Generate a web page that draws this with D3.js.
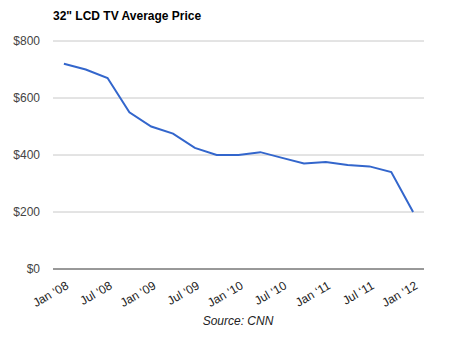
<!DOCTYPE html>
<html>
<head>
<meta charset="utf-8">
<script src="https://cdn.jsdelivr.net/npm/d3@7"></script>
<style>
  body { margin: 0; background: #fff; }
  svg { display: block; font-family: "Liberation Sans", Arial, sans-serif; }
</style>
</head>
<body>
<div id="chart"></div>
<script>
// quarterly average price of a 32" LCD TV
const quarters = ["Jan '08", "Apr '08", "Jul '08", "Oct '08", "Jan '09", "Apr '09", "Jul '09", "Oct '09",
  "Jan '10", "Apr '10", "Jul '10", "Oct '10", "Jan '11", "Apr '11", "Jul '11", "Oct '11", "Jan '12"];
const prices = [720, 700, 670, 550, 500, 475, 425, 400, 400, 410, 390, 370, 375, 365, 360, 340, 200];
const priceTicks = [0, 200, 400, 600, 800];
const tickLabels = ["Jan '08", "Jul '08", "Jan '09", "Jul '09", "Jan '10", "Jul '10", "Jan '11", "Jul '11", "Jan '12"];

const width = 451, height = 338;
const margin = { top: 41, right: 27, bottom: 69, left: 53 };

const svg = d3.select('#chart')
  .append('svg')
  .attr('width', width)
  .attr('height', height);

const x = d3.scalePoint()
  .domain(quarters)
  .range([margin.left, width - margin.right])
  .padding(0.5);

const y = d3.scaleLinear()
  .domain([0, 800])
  .range([height - margin.bottom, margin.top]);

// title
svg.append('text')
  .attr('x', 53)
  .attr('y', 20)
  .attr('font-size', 12)
  .attr('font-weight', 'bold')
  .attr('fill', '#000')
  .text('32" LCD TV Average Price');

// horizontal gridlines
svg.append('g')
  .selectAll('line')
  .data(priceTicks.filter(d => d > 0))
  .enter()
  .append('line')
  .attr('x1', margin.left)
  .attr('x2', width - margin.right)
  .attr('y1', d => y(d))
  .attr('y2', d => y(d))
  .attr('stroke', '#c8c8c8')
  .attr('stroke-width', 1);

// y axis labels
const yAxis = svg.append('g')
  .attr('transform', `translate(${margin.left},0)`)
  .call(d3.axisLeft(y).tickValues(priceTicks).tickSize(0).tickPadding(13).tickFormat(d => '$' + d));
yAxis.select('.domain').remove();
yAxis.selectAll('text')
  .attr('font-size', 12)
  .attr('font-family', '"Liberation Sans", Arial, sans-serif')
  .attr('fill', '#444');

// baseline
svg.append('line')
  .attr('x1', margin.left)
  .attr('x2', width - margin.right)
  .attr('y1', y(0))
  .attr('y2', y(0))
  .attr('stroke', '#333')
  .attr('stroke-width', 1);

// x axis labels, rotated
const xAxis = svg.append('g')
  .attr('transform', `translate(0,${y(0)})`)
  .call(d3.axisBottom(x).tickValues(tickLabels).tickSize(0).tickFormat(d => d.replace("'", '\u2018')));
xAxis.select('.domain').remove();
xAxis.selectAll('text')
  .attr('font-size', 12)
  .attr('font-family', '"Liberation Sans", Arial, sans-serif')
  .attr('fill', '#222')
  .attr('text-anchor', 'end')
  .attr('dy', 0)
  .attr('y', 0)
  .attr('transform', 'translate(5,19) rotate(-30)');

// price line
const line = d3.line()
  .x((d, i) => x(quarters[i]))
  .y(d => y(d));

svg.append('path')
  .datum(prices)
  .attr('d', line)
  .attr('fill', 'none')
  .attr('stroke', '#3366cc')
  .attr('stroke-width', 2);

// source note
svg.append('text')
  .attr('x', 238)
  .attr('y', 325)
  .attr('text-anchor', 'middle')
  .attr('font-size', 12)
  .attr('font-style', 'italic')
  .attr('fill', '#222')
  .text('Source: CNN');
</script>
</body>
</html>
